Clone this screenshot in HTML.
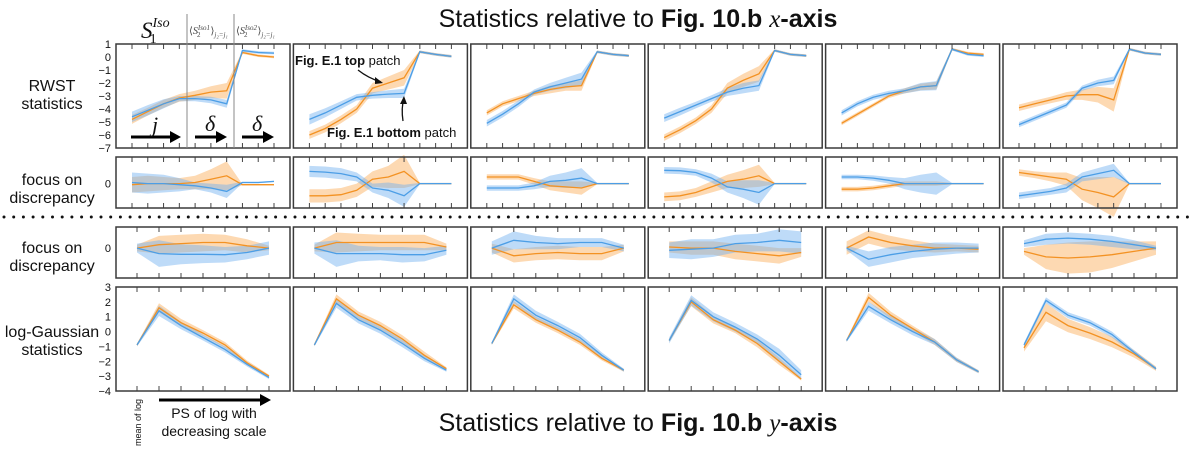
<!DOCTYPE html>
<html><head><meta charset="utf-8"><style>
html,body{margin:0;padding:0;background:#fff;}
svg{display:block;font-family:"Liberation Sans",sans-serif;}
</style></head><body>
<svg id="fig" width="1200" height="449" viewBox="0 0 1200 449" xmlns="http://www.w3.org/2000/svg">
<g>
<text x="638" y="27" text-anchor="middle" font-size="25" fill="#111">Statistics relative to <tspan font-weight="bold">Fig. 10.b</tspan> <tspan font-family="Liberation Serif" font-style="italic">x</tspan><tspan font-weight="bold">-axis</tspan></text>
</g>
<g>
<text x="638" y="431" text-anchor="middle" font-size="25" fill="#111">Statistics relative to <tspan font-weight="bold">Fig. 10.b</tspan> <tspan font-family="Liberation Serif" font-style="italic">y</tspan><tspan font-weight="bold">-axis</tspan></text>
</g>
<g font-size="16" fill="#111" text-anchor="middle">
<text x="52" y="91"><tspan x="52">RWST</tspan><tspan x="52" dy="18">statistics</tspan></text>
<text x="52" y="185"><tspan x="52">focus on</tspan><tspan x="52" dy="18">discrepancy</tspan></text>
<text x="52" y="253"><tspan x="52">focus on</tspan><tspan x="52" dy="18">discrepancy</tspan></text>
<text x="52" y="337"><tspan x="52">log-Gaussian</tspan><tspan x="52" dy="18">statistics</tspan></text>
</g>
<line x1="4" y1="217" x2="1196" y2="217" stroke="#111" stroke-width="3" stroke-linecap="round" stroke-dasharray="0 9.7"/>
<g id="panels"></g>
<g id="annot"></g>
</svg>
<script>
// ---------- data ----------
const nPanels = 6;
const r1Ticks = [1,0,-1,-2,-3,-4,-5,-6,-7];
const r4Ticks = [3,2,1,0,-1,-2,-3,-4];
const r1Blue = [
 [-4.6,-4.1,-3.6,-3.2,-3.2,-3.3,-3.6,0.5,0.35,0.3],
 [-4.8,-4.3,-3.7,-3.1,-2.95,-2.85,-2.8,0.4,0.2,0.05],
 [-5.1,-4.4,-3.6,-2.7,-2.3,-2.0,-1.7,0.4,0.2,0.1],
 [-4.7,-4.2,-3.7,-3.2,-2.7,-2.4,-2.2,0.5,0.2,0.1],
 [-4.3,-3.6,-3.1,-2.8,-2.6,-2.3,-2.2,0.6,0.2,0.1],
 [-5.2,-4.7,-4.2,-3.7,-2.4,-2.0,-1.8,0.6,0.3,0.2]];
const r1Orange = [
 [-4.8,-4.2,-3.6,-3.15,-2.95,-2.7,-2.6,0.35,0.1,0.0],
 [-6.0,-5.5,-4.8,-4.0,-2.4,-2.0,-1.6,0.4,0.2,0.05],
 [-4.3,-3.6,-3.2,-2.8,-2.5,-2.3,-2.2,0.4,0.2,0.1],
 [-6.2,-5.6,-4.9,-4.0,-2.4,-1.8,-1.3,0.5,0.2,0.1],
 [-5.1,-4.4,-3.7,-3.0,-2.6,-2.3,-2.2,0.6,0.3,0.2],
 [-3.9,-3.6,-3.3,-3.0,-2.9,-2.9,-3.3,0.6,0.3,0.2]];
const r1BlueBand = [
 [0.4,0.4,0.35,0.2,0.2,0.25,0.3,0.1,0.1,0.1],
 [0.4,0.35,0.3,0.25,0.25,0.3,0.35,0.1,0.1,0.1],
 [0.25,0.25,0.25,0.2,0.3,0.4,0.5,0.1,0.1,0.1],
 [0.3,0.3,0.25,0.25,0.3,0.4,0.4,0.1,0.1,0.1],
 [0.2,0.2,0.2,0.2,0.2,0.3,0.35,0.1,0.1,0.1],
 [0.2,0.2,0.2,0.2,0.2,0.25,0.3,0.1,0.1,0.1]];
const r1OrangeBand = [
 [0.35,0.3,0.3,0.3,0.35,0.45,0.6,0.1,0.1,0.1],
 [0.3,0.3,0.3,0.3,0.4,0.5,0.6,0.1,0.1,0.1],
 [0.2,0.2,0.2,0.2,0.3,0.3,0.4,0.1,0.1,0.1],
 [0.25,0.25,0.25,0.3,0.4,0.5,0.6,0.1,0.1,0.1],
 [0.15,0.15,0.15,0.15,0.2,0.25,0.3,0.1,0.1,0.1],
 [0.25,0.25,0.25,0.3,0.4,0.6,0.9,0.1,0.1,0.1]];
const r2Blue = [
 [0.05,0.0,0.0,-0.05,-0.1,-0.2,-0.35,0.05,0.05,0.1],
 [0.55,0.52,0.45,0.3,-0.2,-0.3,-0.55,0,0,0],
 [-0.2,-0.2,-0.2,-0.1,0.1,0.15,0.25,0,0,0],
 [0.6,0.58,0.5,0.25,-0.15,-0.25,-0.4,0,0,0],
 [0.3,0.3,0.25,0.15,0,0,0,0,0,0],
 [-0.55,-0.45,-0.35,-0.2,0.3,0.45,0.6,0,0,0]];
const r2Orange = [
 [-0.05,0,0,0,0.05,0.2,0.35,-0.05,-0.05,-0.05],
 [-0.55,-0.55,-0.5,-0.3,0.2,0.3,0.55,0,0,0],
 [0.3,0.3,0.3,0.1,-0.1,-0.15,-0.2,0,0,0],
 [-0.6,-0.55,-0.4,-0.15,0.1,0.2,0.35,0,0,0],
 [-0.25,-0.25,-0.2,-0.1,0,0,0,0,0,0],
 [0.5,0.4,0.3,0.2,-0.25,-0.4,-0.6,0,0,0]];
const r2BlueBand = [
 [0.45,0.45,0.4,0.3,0.15,0.2,0.3,0.03,0.03,0.03],
 [0.25,0.25,0.25,0.2,0.2,0.35,0.5,0.03,0.03,0.03],
 [0.12,0.12,0.12,0.15,0.25,0.35,0.45,0.03,0.03,0.03],
 [0.15,0.15,0.15,0.2,0.25,0.4,0.55,0.03,0.03,0.03],
 [0.1,0.1,0.12,0.15,0.25,0.4,0.5,0.03,0.03,0.03],
 [0.15,0.15,0.15,0.2,0.2,0.25,0.3,0.03,0.03,0.03]];
const r2OrangeBand = [
 [0.35,0.35,0.3,0.25,0.3,0.45,0.65,0.03,0.03,0.03],
 [0.3,0.3,0.3,0.3,0.35,0.5,0.75,0.03,0.03,0.03],
 [0.12,0.12,0.12,0.15,0.2,0.25,0.3,0.03,0.03,0.03],
 [0.2,0.2,0.2,0.25,0.3,0.4,0.5,0.03,0.03,0.03],
 [0.1,0.1,0.1,0.1,0.1,0.1,0.1,0.03,0.03,0.03],
 [0.15,0.15,0.2,0.3,0.5,0.7,0.9,0.03,0.03,0.03]];
const r3Blue = [
 [0,-0.25,-0.28,-0.28,-0.3,-0.2,0],
 [0,-0.25,-0.25,-0.25,-0.3,-0.3,-0.1],
 [0,0.35,0.25,0.2,0.25,0.25,0],
 [-0.1,-0.05,0,0.2,0.25,0.35,0.25],
 [0,-0.5,-0.3,-0.15,-0.05,0,0],
 [0.2,0.4,0.45,0.4,0.3,0.15,0]];
const r3Orange = [
 [0,0.15,0.2,0.25,0.25,0.1,0],
 [0,0.25,0.25,0.25,0.25,0.25,0.05],
 [0,-0.35,-0.25,-0.2,-0.25,-0.25,0],
 [0.05,0,0,-0.15,-0.25,-0.35,-0.2],
 [0,0.5,0.25,0.1,0,0,-0.05],
 [-0.15,-0.4,-0.45,-0.4,-0.3,-0.15,0]];
const r3BlueBand = [
 [0.2,0.6,0.45,0.4,0.35,0.3,0.3],
 [0.25,0.6,0.35,0.3,0.35,0.3,0.2],
 [0.3,0.4,0.3,0.25,0.2,0.2,0.15],
 [0.35,0.45,0.4,0.4,0.4,0.5,0.5],
 [0.1,0.35,0.35,0.3,0.3,0.25,0.2],
 [0.15,0.25,0.25,0.25,0.25,0.2,0.1]];
const r3OrangeBand = [
 [0.15,0.4,0.4,0.4,0.35,0.3,0.1],
 [0.15,0.45,0.4,0.35,0.35,0.35,0.15],
 [0.2,0.3,0.3,0.3,0.3,0.3,0.15],
 [0.25,0.3,0.3,0.35,0.35,0.35,0.2],
 [0.3,0.3,0.3,0.25,0.2,0.15,0.15],
 [0.15,0.55,0.7,0.7,0.6,0.45,0.3]];
const r4Blue = [
 [-0.9,1.4,0.4,-0.4,-1.2,-2.2,-3.1],
 [-0.9,1.9,0.8,0.1,-0.8,-1.8,-2.6],
 [-0.8,2.2,1.1,0.4,-0.4,-1.6,-2.6],
 [-0.6,2.1,1.0,0.3,-0.5,-1.6,-2.9],
 [-0.6,1.7,0.8,0.0,-0.7,-1.9,-2.7],
 [-0.9,2.1,1.1,0.6,-0.2,-1.4,-2.5]];
const r4Orange = [
 [-0.9,1.6,0.6,-0.1,-0.9,-2.1,-3.0],
 [-0.9,2.2,1.1,0.4,-0.5,-1.6,-2.5],
 [-0.8,1.8,0.8,0.1,-0.7,-1.8,-2.6],
 [-0.6,2.0,0.8,0.1,-0.8,-2.0,-3.2],
 [-0.6,2.3,1.1,0.2,-0.7,-1.9,-2.7],
 [-1.1,1.3,0.4,-0.1,-0.7,-1.5,-2.5]];
const r4BlueBand = [
 [0.1,0.35,0.25,0.2,0.2,0.15,0.1],
 [0.1,0.3,0.25,0.25,0.25,0.2,0.1],
 [0.1,0.3,0.3,0.25,0.25,0.2,0.1],
 [0.2,0.35,0.3,0.3,0.3,0.45,0.3],
 [0.1,0.3,0.25,0.25,0.2,0.15,0.1],
 [0.15,0.2,0.2,0.2,0.2,0.15,0.1]];
const r4OrangeBand = [
 [0.1,0.3,0.25,0.2,0.2,0.15,0.1],
 [0.1,0.3,0.25,0.25,0.25,0.25,0.1],
 [0.1,0.25,0.2,0.2,0.2,0.15,0.1],
 [0.1,0.3,0.25,0.2,0.25,0.25,0.1],
 [0.1,0.3,0.25,0.2,0.2,0.15,0.1],
 [0.25,0.6,0.45,0.4,0.35,0.25,0.15]];

// ---------- layout ----------
const NS = "http://www.w3.org/2000/svg";
const panelsG = document.getElementById('panels');
const rows = [
 {top:44,h:104,n:10,pad:16,ymin:-7,ymax:1,blue:r1Blue,orange:r1Orange,bb:r1BlueBand,ob:r1OrangeBand,name:'rwst'},
 {top:157,h:51,n:10,pad:16,ymin:-1.1,ymax:1.2,blue:r2Blue,orange:r2Orange,bb:r2BlueBand,ob:r2OrangeBand,name:'discrepancy-x'},
 {top:227,h:51,n:7,pad:21,ymin:-1.35,ymax:0.95,blue:r3Blue,orange:r3Orange,bb:r3BlueBand,ob:r3OrangeBand,name:'discrepancy-y'},
 {top:287,h:104,n:7,pad:21,ymin:-4,ymax:3,blue:r4Blue,orange:r4Orange,bb:r4BlueBand,ob:r4OrangeBand,name:'log-gaussian'}];
const panelW = 174;
function panelLeft(i){ return 116 + i*177.4; }
function mk(tag, attrs, parent){
  const e = document.createElementNS(NS, tag);
  for (const k in attrs) e.setAttribute(k, attrs[k]);
  parent.appendChild(e); return e;
}
rows.forEach((r, ri) => {
  for (let p = 0; p < nPanels; p++) {
    const L = panelLeft(p);
    const g = mk('g', {}, panelsG);
    
    
    const xs = k => L + r.pad + k * (panelW - 2*r.pad) / (r.n - 1);
    const ys = v => r.top + (r.ymax - v) / (r.ymax - r.ymin) * r.h;
    const series = [
      {vals:r.orange[p], band:r.ob[p], line:'#f39223', fill:'rgba(250,170,85,0.45)', nm:'orange'},
      {vals:r.blue[p], band:r.bb[p], line:'#4c9ee6', fill:'rgba(110,175,240,0.45)', nm:'blue'}];
    series.forEach(s => {
      let up = s.vals.map((v,k)=>xs(k).toFixed(1)+','+ys(v+s.band[k]).toFixed(1));
      let dn = s.vals.map((v,k)=>xs(k).toFixed(1)+','+ys(v-s.band[k]).toFixed(1)).reverse();
      const band = mk('polygon', {points: up.concat(dn).join(' '), fill: s.fill, stroke:'none'}, g);
      
      
    });
    series.forEach(s => {
      const pts = s.vals.map((v,k)=>xs(k).toFixed(1)+','+ys(v).toFixed(1)).join(' ');
      const ln = mk('polyline', {points: pts, fill:'none', stroke: s.line, 'stroke-width':1.3}, g);
      
      
    });
    for (let k = 0; k < r.n; k++) {
      mk('line', {x1:xs(k), x2:xs(k), y1:r.top, y2:r.top+5, stroke:'#444', 'stroke-width':1}, g);
      mk('line', {x1:xs(k), x2:xs(k), y1:r.top+r.h, y2:r.top+r.h-5, stroke:'#444', 'stroke-width':1}, g);
    }
    const fr = mk('rect', {x:L, y:r.top, width:panelW, height:r.h, fill:'none', stroke:'#3a3a3a', 'stroke-width':1.5}, g);
    
    
    if (p === 0) {
      const tg = mk('g', {'font-size':11, fill:'#111', 'text-anchor':'end'}, g);
      
      
      let ticks = ri === 0 ? r1Ticks : (ri === 3 ? r4Ticks : [0]);
      ticks.forEach(t => {
        const tx = mk('text', {x:L-5, y:ys(t)+4}, tg);
        tx.textContent = t < 0 ? '\u2212' + Math.abs(t) : String(t);
      });
    }
  }
});

// ---------- annotations ----------
const an = document.getElementById('annot');
an.innerHTML = `
<line x1="187" y1="14" x2="187" y2="148" stroke="#888" stroke-width="1"/>
<line x1="234" y1="14" x2="234" y2="148" stroke="#888" stroke-width="1"/>
<text x="141" y="38" font-family="Liberation Serif" font-style="italic" font-size="23" fill="#111">S<tspan font-size="14" dy="-11">Iso</tspan><tspan font-size="14" font-style="normal" dx="-20" dy="16">1</tspan></text>
<text x="189" y="34" font-family="Liberation Serif" font-size="10" fill="#444">⟨<tspan font-style="italic">S</tspan><tspan font-size="7" dy="-4" font-style="italic">Iso1</tspan><tspan font-size="7" dx="-13" dy="7">2</tspan><tspan dx="10" dy="-3">⟩</tspan><tspan font-size="7" dy="3" font-style="italic">j₂=j₁</tspan></text>
<text x="236" y="34" font-family="Liberation Serif" font-size="10" fill="#444">⟨<tspan font-style="italic">S</tspan><tspan font-size="7" dy="-4" font-style="italic">Iso2</tspan><tspan font-size="7" dx="-13" dy="7">2</tspan><tspan dx="10" dy="-3">⟩</tspan><tspan font-size="7" dy="3" font-style="italic">j₂=j₁</tspan></text>
<g><line x1="131" y1="137" x2="172" y2="137" stroke="#000" stroke-width="3"/><polygon points="181,137 170,131 170,143" fill="#000"/><text x="152" y="132" font-family="Liberation Serif" font-style="italic" font-size="22" fill="#111">j</text></g>
<g><line x1="195" y1="137" x2="218" y2="137" stroke="#000" stroke-width="3"/><polygon points="227,137 216,131 216,143" fill="#000"/><text x="205" y="131" font-family="Liberation Serif" font-style="italic" font-size="22" fill="#111">δ</text></g>
<g><line x1="242" y1="137" x2="265" y2="137" stroke="#000" stroke-width="3"/><polygon points="274,137 263,131 263,143" fill="#000"/><text x="252" y="131" font-family="Liberation Serif" font-style="italic" font-size="22" fill="#111">δ</text></g>
<text x="295" y="65" font-size="13" fill="#111"><tspan font-weight="bold">Fig. E.1 top</tspan> patch</text>
<path d="M358,70 Q368,78 381,82" fill="none" stroke="#111" stroke-width="1.3"/>
<polygon points="383,83 375,77 375,84" fill="#111"/>
<text x="327" y="137" font-size="13" fill="#111"><tspan font-weight="bold">Fig. E.1 bottom</tspan> patch</text>
<path d="M403,121 Q401,108 404,98" fill="none" stroke="#111" stroke-width="1.3"/>
<polygon points="404,96 400,104 407,104" fill="#111"/>
<text transform="translate(141,446) rotate(-90)" font-size="9" fill="#111">mean of log</text>
<g><line x1="159" y1="400" x2="262" y2="400" stroke="#000" stroke-width="3"/><polygon points="271,400 260,394 260,406" fill="#000"/></g>
<text x="214" y="418" text-anchor="middle" font-size="14" fill="#111"><tspan x="214">PS of log with</tspan><tspan x="214" dy="18">decreasing scale</tspan></text>
`;
</script>
</body></html>
